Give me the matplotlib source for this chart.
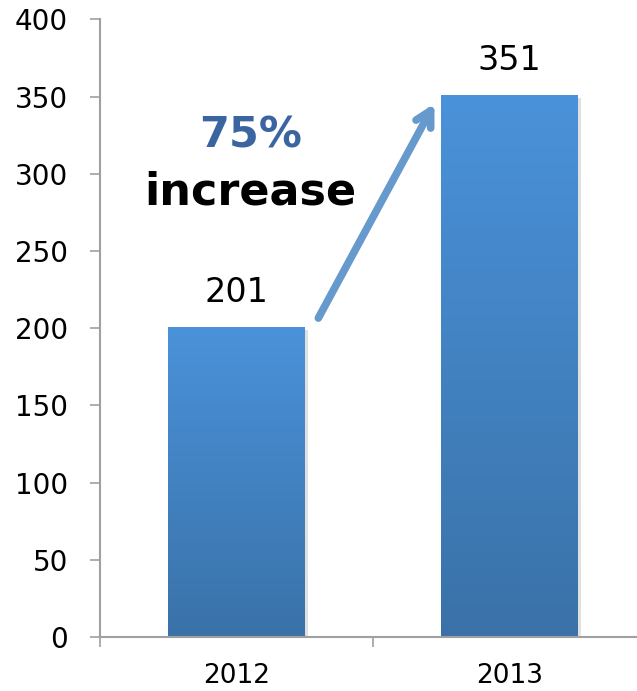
import numpy as np
import matplotlib
matplotlib.use("Agg")
import matplotlib.pyplot as plt
from matplotlib.colors import LinearSegmentedColormap

years = ["2012", "2013"]
values = [201, 351]
y_ticks = [0, 50, 100, 150, 200, 250, 300, 350, 400]
pct_label = "75%"
pct_word = "increase"

axis_gray = "#a0a0a0"
grad = LinearSegmentedColormap.from_list("bar", ["#3a72a8", "#4a92da"])

fig = plt.figure(figsize=(6.37, 6.91), dpi=100)
ax = fig.add_axes([0.157, 0.078, 0.857, 0.894])

x = np.arange(len(years))
bars = ax.bar(x, values, width=0.5, color="none", zorder=2)

# gradient fill clipped to each bar
for b in bars:
    x0, y0 = b.get_x(), b.get_y()
    w, h = b.get_width(), b.get_height()
    shadow = plt.Rectangle((x0 + 0.012, y0), w, h - 2, color="#000000", alpha=0.12, zorder=1, lw=0)
    ax.add_patch(shadow)
    img = ax.imshow(np.linspace(0, 1, 256).reshape(-1, 1), cmap=grad, aspect="auto",
                    extent=[x0, x0 + w, y0, y0 + h], origin="lower", zorder=2)
    img.set_clip_path(b)

for xi, v in zip(x, values):
    ax.annotate(str(v), (xi, v), xytext=(0, 13), textcoords="offset points",
                ha="center", va="bottom", fontsize=24, color="black")

ax.set_xlim(-0.5, 1.5)
ax.set_ylim(0, 400)
ax.set_yticks(y_ticks)
ax.set_xticks(x)
ax.set_xticklabels(years)
ax.set_xticks([-0.5, 0.5, 1.5], minor=True)

ax.tick_params(axis="y", direction="out", length=7, width=1.2, color=axis_gray,
               labelsize=20, pad=16)
ax.tick_params(axis="x", which="major", length=0, labelsize=19, pad=19)
ax.tick_params(axis="x", which="minor", direction="out", length=7, width=1.2, color=axis_gray)

for s in ["top", "right"]:
    ax.spines[s].set_visible(False)
for s in ["left", "bottom"]:
    ax.spines[s].set_color(axis_gray)
    ax.spines[s].set_linewidth(1.5)

# growth arrow and callout
ax.annotate("", xy=(0.73, 347), xytext=(0.295, 205),
            arrowprops=dict(arrowstyle="->,head_length=1.1,head_width=0.6",
                            color="#6699cc", lw=5.5, capstyle="round"), zorder=3)
ax.text(0.05, 325, pct_label, ha="center", va="center", fontsize=31,
        fontweight="bold", color="#3a65a0")
ax.text(0.05, 288, pct_word, ha="center", va="center", fontsize=32,
        fontweight="bold", color="black")

fig.savefig("out.png", dpi=100)
